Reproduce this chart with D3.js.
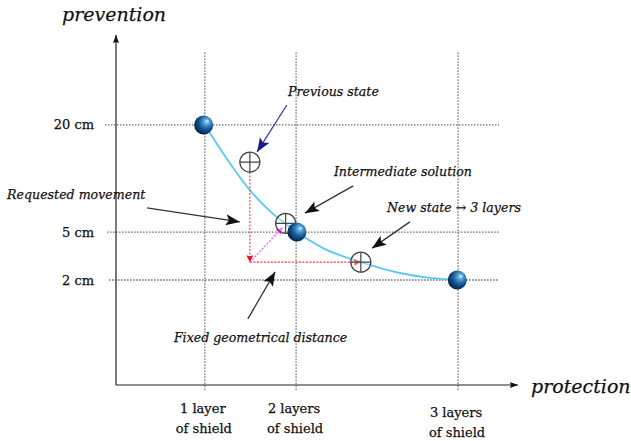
<!DOCTYPE html>
<html>
<head>
<meta charset="utf-8">
<script src="https://cdn.jsdelivr.net/npm/d3@7"></script>
<style>
  body { margin: 0; background: #fff; }
  svg text { font-family: "DejaVu Serif", serif; fill: #111; stroke: #111; stroke-width: 0.25px; }
</style>
</head>
<body>
<div id="chart"></div>
<script>
// schematic units: protection 0..100 (x), prevention 0..100 (y)
var layerTicks = [22.1, 44.8, 85.1];
var layerLabels = [["1 layer", "of shield"], ["2 layers", "of shield"], ["3 layers", "of shield"]];
var cmTicks = [74.3, 43.7, 30.0];
var cmLabels = ["20 cm", "5 cm", "2 cm"];

// trade-off curve
var curveX = [22.1, 26.6, 33.3, 38.3, 42.3, 45.0, 51.5, 60.9, 70.6, 78.1, 85.1];
var curveY = [74.3, 66.3, 55.7, 49.7, 46.0, 43.7, 39.1, 35.1, 32.0, 30.6, 30.0];

// configurations (balls)
var ballX = [21.8, 45.0, 84.9];
var ballY = [74.3, 43.7, 30.0];

// states (crosshair circles)
var stateNames = ["previous", "intermediate", "new"];
var stateX = [33.3, 42.2, 60.9];
var stateY = [63.7, 46.2, 35.1];

// annotations: arrow from (x1,y1) to (x2,y2), text at (tx,ty)
var notes = [
  {text: "Previous state", x1: 42.5, y1: 80.0, x2: 35.1, y2: 66.6, tx: 42.8, ty: 82.6, color: "#3c3ca0"},
  {text: "Intermediate solution", x1: 59.0, y1: 56.9, x2: 47.0, y2: 49.1, tx: 54.2, ty: 59.7, color: "#333"},
  {text: "New state \u2192 3 layers", x1: 73.1, y1: 46.6, x2: 63.7, y2: 39.1, tx: 67.4, ty: 49.4, color: "#333"},
  {text: "Requested movement", x1: 7.7, y1: 50.6, x2: 30.8, y2: 46.6, tx: -27.1, ty: 53.1, color: "#333"},
  {text: "Fixed geometrical distance", x1: 32.8, y1: 18.9, x2: 39.6, y2: 32.3, tx: 14.4, ty: 12.3, color: "#333"}
];

var width = 631, height = 441;
var x = d3.scaleLinear().domain([0, 100]).range([116, 518]);
var y = d3.scaleLinear().domain([0, 100]).range([385, 35]);

var svg = d3.select("#chart").append("svg")
  .attr("width", width)
  .attr("height", height);

var defs = svg.append("defs");

function marker(id, color, len, half, notch){
  defs.append("marker")
    .attr("id", id)
    .attr("markerUnits", "userSpaceOnUse")
    .attr("viewBox", [-1, -half - 1, len + 2, 2 * half + 2].join(" "))
    .attr("markerWidth", len + 2)
    .attr("markerHeight", 2 * half + 2)
    .attr("refX", len)
    .attr("refY", 0)
    .attr("orient", "auto")
    .append("path")
    .attr("d", "M0," + (-half) + "L" + len + ",0L0," + half + "L" + notch + ",0Z")
    .style("fill", color);
}
marker("arrBlack", "#111", 14, 5.5, 3);
marker("arrNavy", "#1a1a8c", 14, 5.5, 3);
marker("arrAxis", "#111", 8, 3, 1);
marker("arrRed", "#ee1111", 7, 3.5, 1);
marker("arrPink", "#ff33ff", 7, 3.5, 1);

var grad = defs.append("radialGradient")
  .attr("id", "ball")
  .attr("cx", "62%").attr("cy", "38%").attr("r", "62%")
  .attr("fx", "68%").attr("fy", "30%");
grad.append("stop").attr("offset", "0%").attr("stop-color", "#d8f0ff");
grad.append("stop").attr("offset", "22%").attr("stop-color", "#5aa6dc");
grad.append("stop").attr("offset", "60%").attr("stop-color", "#145a98");
grad.append("stop").attr("offset", "100%").attr("stop-color", "#06284e");

// dotted guide lines
svg.append("g").selectAll("line.v")
  .data(layerTicks).enter().append("line")
  .attr("x1", function(d){ return x(d); })
  .attr("x2", function(d){ return x(d); })
  .attr("y1", y(95)).attr("y2", y(-1.5))
  .style("stroke", "#555")
  .style("stroke-width", 1.3)
  .style("stroke-dasharray", "1.3,1.7");

svg.append("g").selectAll("line.h")
  .data(cmTicks).enter().append("line")
  .attr("x1", function(d, i){ return x(-2.7 + i * 0.5); })
  .attr("x2", x(95.3))
  .attr("y1", function(d){ return y(d); })
  .attr("y2", function(d){ return y(d); })
  .style("stroke", "#555")
  .style("stroke-width", 1.3)
  .style("stroke-dasharray", "1.3,1.7");

// axes
svg.append("line")
  .attr("x1", x(0)).attr("y1", y(0)).attr("x2", x(0)).attr("y2", y(100))
  .style("stroke", "#222").style("stroke-width", 1.2)
  .attr("marker-end", "url(#arrAxis)");
svg.append("line")
  .attr("x1", x(0)).attr("y1", y(0)).attr("x2", x(100)).attr("y2", y(0))
  .style("stroke", "#222").style("stroke-width", 1.2)
  .attr("marker-end", "url(#arrAxis)");

svg.append("text")
  .attr("x", x(0) - 54).attr("y", 21)
  .style("font-style", "italic").style("font-size", "19px")
  .text("prevention");
svg.append("text")
  .attr("x", x(100) + 13).attr("y", 393)
  .style("font-style", "italic").style("font-size", "19px")
  .text("protection");

// tick labels
svg.append("g").selectAll("text")
  .data(cmLabels).enter().append("text")
  .attr("x", x(0) - 22)
  .attr("y", function(d, i){ return y(cmTicks[i]) + 4.5; })
  .attr("text-anchor", "end")
  .style("font-size", "13px")
  .text(function(d){ return d; });

var xl = svg.append("g").selectAll("text")
  .data(layerLabels).enter().append("text")
  .attr("text-anchor", "middle")
  .style("font-size", "13px");
xl.append("tspan")
  .attr("x", function(d, i){ return x(layerTicks[i]) - 2; })
  .attr("y", function(d, i){ return i == 2 ? 417 : 413; })
  .text(function(d){ return d[0]; });
xl.append("tspan")
  .attr("x", function(d, i){ return x(layerTicks[i]) - 1; })
  .attr("dy", 19.5)
  .text(function(d){ return d[1]; });

// curve
var curvePts = curveX.map(function(v, i){ return [v, curveY[i]]; });
var line = d3.line()
  .x(function(d){ return x(d[0]); })
  .y(function(d){ return y(d[1]); })
  .curve(d3.curveMonotoneX);
svg.append("path")
  .attr("d", line(curvePts))
  .style("fill", "none")
  .style("stroke", "#5cc8f2")
  .style("stroke-width", 1.8);

// movement: requested (red) and intermediate (magenta)
var r = 10;
svg.append("line")
  .attr("x1", x(stateX[0])).attr("y1", y(stateY[0]) + r)
  .attr("x2", x(stateX[0])).attr("y2", y(stateY[2]))
  .style("stroke", "#ff3333").style("stroke-width", 1.1)
  .style("stroke-dasharray", "2,1.5")
  .attr("marker-end", "url(#arrRed)");
svg.append("line")
  .attr("x1", x(stateX[0])).attr("y1", y(stateY[2]))
  .attr("x2", x(stateX[2])).attr("y2", y(stateY[2]))
  .style("stroke", "#ff3333").style("stroke-width", 1.1)
  .style("stroke-dasharray", "2,1.5")
  .attr("marker-end", "url(#arrRed)");
svg.append("line")
  .attr("x1", x(stateX[0])).attr("y1", y(stateY[2]))
  .attr("x2", x(stateX[1]) - 3).attr("y2", y(stateY[1]) + 4)
  .style("stroke", "#ff44ff").style("stroke-width", 1.1)
  .style("stroke-dasharray", "2,1.5")
  .attr("marker-end", "url(#arrPink)");

// crosshair states
var states = svg.append("g").selectAll("g")
  .data(stateNames).enter().append("g")
  .attr("transform", function(d, i){ return "translate(" + x(stateX[i]) + "," + y(stateY[i]) + ")"; });
states.append("circle")
  .attr("r", r)
  .style("fill", "rgba(255,255,255,0.35)")
  .style("stroke", "#444")
  .style("stroke-width", 1.3);
states.append("path")
  .attr("d", "M" + (-r) + ",0H" + r + "M0," + (-r) + "V" + r)
  .style("stroke", "#444")
  .style("stroke-width", 1.2);

// balls
svg.append("g").selectAll("circle")
  .data(ballX).enter().append("circle")
  .attr("cx", function(d){ return x(d); })
  .attr("cy", function(d, i){ return y(ballY[i]); })
  .attr("r", 9.5)
  .style("fill", "url(#ball)");

// annotation arrows and texts
var ann = svg.append("g").selectAll("g")
  .data(notes).enter().append("g");
ann.append("line")
  .attr("x1", function(d){ return x(d.x1); })
  .attr("y1", function(d){ return y(d.y1); })
  .attr("x2", function(d){ return x(d.x2); })
  .attr("y2", function(d){ return y(d.y2); })
  .style("stroke", function(d){ return d.color; })
  .style("stroke-width", 1.3)
  .attr("marker-end", function(d){ return d.color == "#333" ? "url(#arrBlack)" : "url(#arrNavy)"; });
ann.append("text")
  .attr("x", function(d){ return x(d.tx); })
  .attr("y", function(d){ return y(d.ty); })
  .style("font-style", "italic")
  .style("font-size", "12.6px")
  .text(function(d){ return d.text; });
</script>
</body>
</html>
